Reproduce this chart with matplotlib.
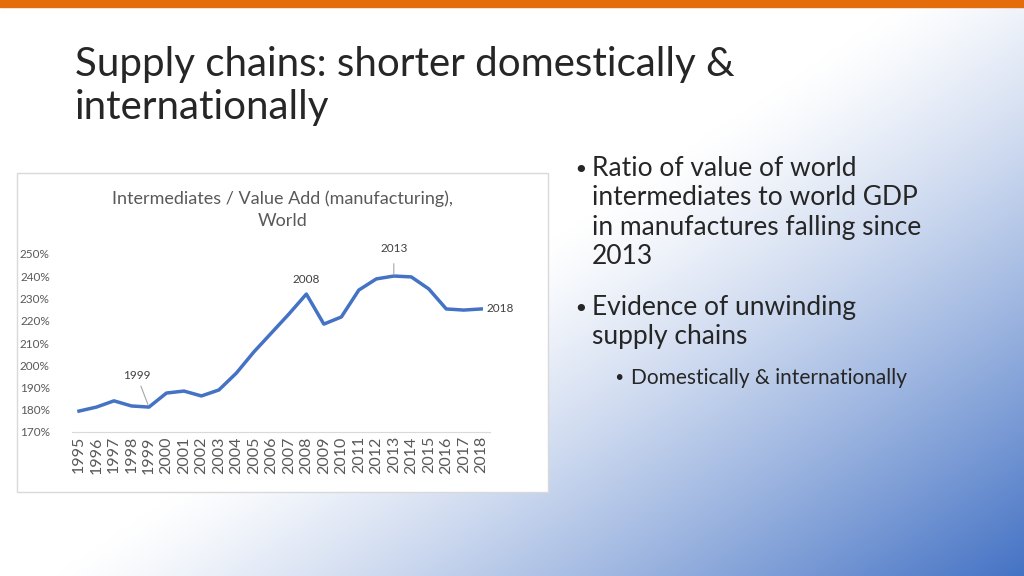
import numpy as np
import matplotlib.pyplot as plt
from matplotlib.patches import Rectangle
from matplotlib.ticker import FuncFormatter

years = list(range(1995, 2019))
ratio = [179.4, 181.2, 184.0, 181.7, 181.2, 187.5, 188.4, 186.2, 188.9, 196.5,
         206.0, 214.5, 223.0, 232.0, 218.5, 221.7, 233.8, 238.8, 240.1, 239.7,
         234.3, 225.3, 224.8, 225.3]
yticks = [170, 180, 190, 200, 210, 220, 230, 240, 250]

W, H = 1024, 576
FONT = 'Lato'
fig = plt.figure(figsize=(W / 100, H / 100), dpi=100)

# slide background gradient
bg = fig.add_axes([0, 0, 1, 1])
xx, yy = np.meshgrid(np.linspace(0, 1, 400), np.linspace(0, 1, 225))
t = np.clip((xx * 0.9 + yy * 0.75 - 0.8) / 0.85, 0, 1) ** 1.2
white = np.array([1.0, 1.0, 1.0])
blue = np.array([0.27, 0.45, 0.77])
img = white[None, None, :] * (1 - t[..., None]) + blue[None, None, :] * t[..., None]
bg.imshow(img, extent=[0, 1, 0, 1], aspect='auto', origin='upper')
bg.add_patch(Rectangle((0, 1 - 7 / H), 1, 7 / H, color='#E46C0A'))
bg.set_xlim(0, 1)
bg.set_ylim(0, 1)
bg.axis('off')

fig.text(75 / W, 1 - 86 / H, 'Supply chains: shorter domestically &\ninternationally',
         fontsize=29, color='#262626', va='center', linespacing=1.2, family=FONT)

fig.text(573 / W, 1 - 171 / H, '•', fontsize=18, va='center', color='#262626')
fig.text(592 / W, 1 - 156 / H, 'Ratio of value of world\nintermediates to world GDP\nin manufactures falling since\n2013',
         fontsize=19, va='top', color='#262626', linespacing=1.22, family=FONT)
fig.text(573 / W, 1 - 310 / H, '•', fontsize=18, va='center', color='#262626')
fig.text(592 / W, 1 - 295 / H, 'Evidence of unwinding\nsupply chains',
         fontsize=19, va='top', color='#262626', linespacing=1.22, family=FONT)
fig.text(613 / W, 1 - 378 / H, '•', fontsize=14, va='center', color='#262626')
fig.text(631 / W, 1 - 378 / H, 'Domestically & internationally', fontsize=15,
         va='center', color='#262626', family=FONT)

# chart box
bg.add_patch(Rectangle((17 / W, 1 - 492 / H), 531 / W, 319 / H,
                       facecolor='white', edgecolor='#d9d9d9', lw=1))
fig.text(283 / W, 1 - 210 / H, 'Intermediates / Value Add (manufacturing),\nWorld',
         ha='center', va='center', fontsize=13, color='#595959',
         linespacing=1.45, family=FONT)

ax = fig.add_axes([72 / W, 1 - 432 / H, 418 / W, 178 / H])
ax.patch.set_alpha(0)
ax.plot(years, ratio, color='#4472C4', lw=2.5)
ax.set_xlim(1994.6, 2018.5)
ax.set_ylim(170, 250)
ax.set_yticks(yticks)
ax.yaxis.set_major_formatter(FuncFormatter(lambda v, p: '%d%%' % v))
ax.set_xticks(years)
ax.set_xticklabels([str(y) for y in years], rotation=90, fontsize=11.5,
                   color='#595959', family=FONT)
for lbl in ax.get_yticklabels():
    lbl.set_family(FONT)
ax.tick_params(axis='y', length=0, labelsize=8.5, labelcolor='#595959', pad=16)
ax.tick_params(axis='x', length=0, pad=3)
for s in ['top', 'right', 'left']:
    ax.spines[s].set_visible(False)
ax.spines['bottom'].set_color('#d9d9d9')

lab = dict(fontsize=8.5, color='#404040', ha='center', family=FONT)
ax.annotate('1999', xy=(1999, ratio[4]), xytext=(1998.3, 195.5), va='center',
            arrowprops=dict(arrowstyle='-', color='#a6a6a6', lw=0.8), **lab)
ax.text(2008, 236, '2008', va='bottom', **lab)
ax.annotate('2013', xy=(2013, ratio[18] + 0.5), xytext=(2013, 252.5), va='center',
            arrowprops=dict(arrowstyle='-', color='#a6a6a6', lw=0.8,
                            shrinkA=5, shrinkB=0), **lab)
ax.text(2018.3, ratio[-1], '2018', va='center', fontsize=8.5, color='#404040',
        ha='left', family=FONT)

fig.savefig('out.png', dpi=100)
